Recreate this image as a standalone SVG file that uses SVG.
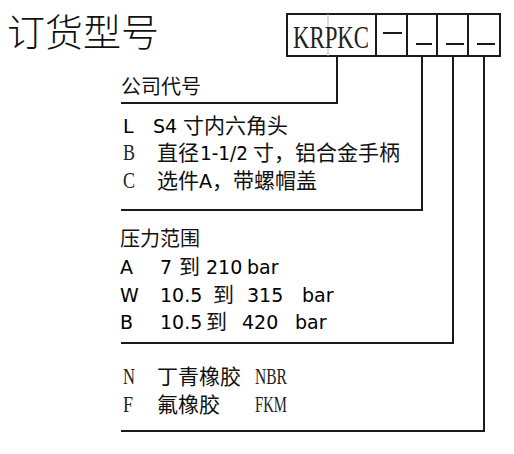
<svg xmlns="http://www.w3.org/2000/svg" width="514" height="454" viewBox="0 0 514 454">
<style>
.ln{stroke:#1a1a1a;stroke-width:2;fill:none}
.cjk{font-family:"Noto Sans CJK SC",sans-serif;fill:#111}
.sans{font-family:"DejaVu Sans","Liberation Sans",sans-serif;fill:#000}
.ser{font-family:"Liberation Serif",serif;fill:#222}
</style>
<rect width="514" height="454" fill="#fff"/>
<g id="title"><text class="cjk" x="7" y="46" font-size="38" font-weight="300">订货型号</text></g>
<g id="code-box">
<rect class="ln" x="287" y="14" width="213" height="42"/>
<line x1="328" y1="14" x2="328" y2="56" stroke="#bbb" stroke-width="1"/>
<line class="ln" x1="376" y1="14" x2="376" y2="56"/>
<line class="ln" x1="407" y1="14" x2="407" y2="56"/>
<line class="ln" x1="437" y1="14" x2="437" y2="56"/>
<line class="ln" x1="468" y1="14" x2="468" y2="56"/>
<text class="ser" x="293" y="48" font-size="31" textLength="76" lengthAdjust="spacingAndGlyphs">KRPKC</text>
<line class="ln" x1="383" y1="33" x2="402" y2="33"/>
<line class="ln" x1="416" y1="44" x2="432" y2="44"/>
<line class="ln" x1="446" y1="44" x2="464" y2="44"/>
<line class="ln" x1="477" y1="44" x2="495" y2="44"/>
</g>
<g id="connectors">
<polyline class="ln" points="337,56 337,103 121,103"/>
<polyline class="ln" points="422,56 422,210 121,210"/>
<polyline class="ln" points="453,56 453,343 121,343"/>
<polyline class="ln" points="484,56 484,431 121,431"/>
</g>
<g id="company">
<text class="cjk" x="121" y="94" font-size="20">公司代号</text>
<text class="sans" x="123" y="133" font-size="19">L</text>
<text class="sans" x="153" y="133" font-size="19">S4</text>
<text class="cjk" x="183" y="133" font-size="21">寸内六角头</text>
<text class="ser" x="123" y="160" font-size="23" textLength="12" lengthAdjust="spacingAndGlyphs">B</text>
<text class="cjk" x="157" y="160" font-size="21">直径</text>
<text class="sans" x="200" y="160" font-size="19" textLength="48" lengthAdjust="spacingAndGlyphs">1-1/2</text>
<text class="cjk" x="253" y="160" font-size="21">寸，铝合金手柄</text>
<text class="ser" x="123" y="188" font-size="23" textLength="12" lengthAdjust="spacingAndGlyphs">C</text>
<text class="cjk" x="157" y="188" font-size="21">选件</text>
<text class="sans" x="199" y="188" font-size="19">A</text>
<text class="cjk" x="212" y="188" font-size="21">，带螺帽盖</text>
</g>
<g id="pressure">
<text class="cjk" x="120" y="246" font-size="20">压力范围</text>
<text class="sans" x="120" y="274" font-size="19">A</text>
<text class="sans" x="160" y="274" font-size="19">7</text>
<text class="cjk" x="179" y="274" font-size="21">到</text>
<text class="sans" x="206" y="274" font-size="19">210</text>
<text class="sans" x="247" y="274" font-size="19">bar</text>
<text class="sans" x="120" y="302" font-size="19">W</text>
<text class="sans" x="160" y="302" font-size="19">10.5</text>
<text class="cjk" x="213" y="302" font-size="21">到</text>
<text class="sans" x="247" y="302" font-size="19">315</text>
<text class="sans" x="302" y="302" font-size="19">bar</text>
<text class="sans" x="120" y="329" font-size="19">B</text>
<text class="sans" x="160" y="329" font-size="19">10.5</text>
<text class="cjk" x="206" y="329" font-size="21">到</text>
<text class="sans" x="242" y="329" font-size="19">420</text>
<text class="sans" x="295" y="329" font-size="19">bar</text>
</g>
<g id="seal">
<text class="ser" x="123" y="384" font-size="23" textLength="12" lengthAdjust="spacingAndGlyphs">N</text>
<text class="cjk" x="157" y="384" font-size="21">丁青橡胶</text>
<text class="ser" x="255" y="384" font-size="23" textLength="32" lengthAdjust="spacingAndGlyphs">NBR</text>
<text class="ser" x="123" y="412" font-size="23" textLength="10" lengthAdjust="spacingAndGlyphs">F</text>
<text class="cjk" x="157" y="412" font-size="21">氟橡胶</text>
<text class="ser" x="255" y="412" font-size="23" textLength="32" lengthAdjust="spacingAndGlyphs">FKM</text>
</g>
</svg>
